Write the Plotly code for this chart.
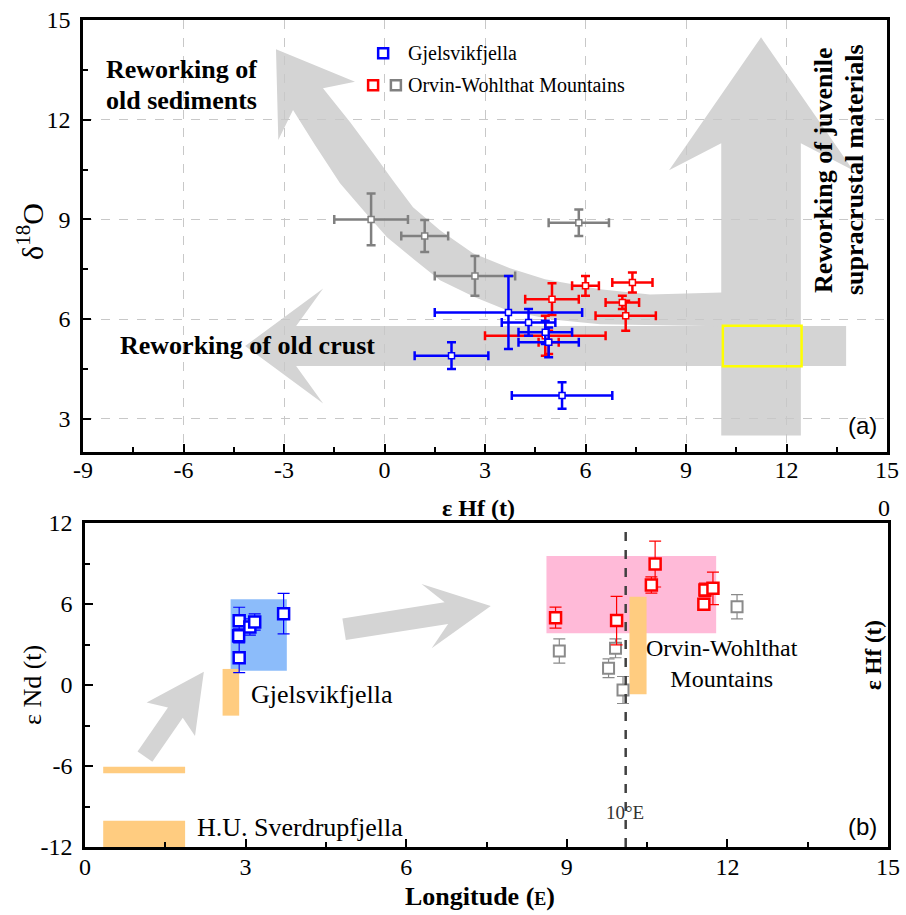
import math
import plotly.graph_objects as go

# ---------------- panel (a): εHf(t) vs δ18O ----------------
gjel_hf = [3.7, 4.3, 4.8, 4.9, 2.0, 5.3]
gjel_hf_err = [2.2, 0.8, 0.8, 0.9, 1.1, 1.5]
gjel_o = [6.2, 5.9, 5.6, 5.3, 4.9, 3.7]
gjel_o_err = [1.1, 0.4, 0.35, 0.45, 0.4, 0.4]

owm_red_hf = [5.0, 6.0, 7.4, 7.1, 7.2, 4.8, 4.9]
owm_red_hf_err = [0.8, 0.4, 0.6, 0.5, 0.9, 1.8, 0.3]
owm_red_o = [6.6, 7.0, 7.1, 6.5, 6.1, 5.5, 5.3]
owm_red_o_err = [0.48, 0.3, 0.3, 0.2, 0.45, 0.6, 0.35]

owm_gray_hf = [-0.4, 1.2, 2.7, 5.8]
owm_gray_hf_err = [1.1, 0.7, 1.2, 0.9]
owm_gray_o = [9.0, 8.5, 7.3, 8.9]
owm_gray_o_err = [0.78, 0.48, 0.6, 0.4]

hf_ticks = [-9, -6, -3, 0, 3, 6, 9, 12, 15]
o_ticks = [3, 6, 9, 12, 15]

# ---------------- panel (b): longitude vs εNd(t) ----------------
gjel_lon = [2.88, 2.87, 2.88, 3.08, 3.17, 3.71]
gjel_nd = [4.76, 3.65, 2.02, 4.3, 4.67, 5.28]
gjel_nd_err = [1.0, 0.5, 1.1, 0.6, 0.6, 1.5]

owm_red_lon = [8.79, 9.93, 10.65, 10.58, 11.58, 11.73, 11.56]
owm_red_nd = [4.99, 4.77, 8.96, 7.41, 7.04, 7.16, 5.98]
owm_red_nd_err = [0.78, 1.8, 1.7, 0.6, 0.5, 1.2, 0.4]

owm_gray_lon = [8.86, 9.91, 9.78, 10.05, 12.18]
owm_gray_nd = [2.52, 2.72, 1.24, -0.37, 5.8]
owm_gray_nd_err = [0.9, 0.7, 0.7, 1.0, 0.9]

lon_ticks = [0, 3, 6, 9, 12, 15]
nd_ticks = [-12, -6, 0, 6, 12]

# εHf ranges (longitude span, εHf min/max) drawn as orange bars
hf_bars = [
    (0.34, 1.87, -12.0, -10.05),
    (0.34, 1.87, -6.54, -6.05),
    (2.57, 2.88, -2.27, 1.19),
    (10.17, 10.49, -0.69, 6.54),
]
# εNd fields
gjel_field = (2.72, 3.77, 1.06, 6.35)
owm_field = (8.62, 11.79, 3.83, 9.56)
meridian = 10.1

W, H = 906, 915
# plot areas in pixels (left, right, top, bottom)
A = (83, 887, 20, 452)
B = (85, 888, 523, 847)
A_X, A_Y = (-9, 15), (2, 15)
B_X, B_Y = (0, 15), (-12, 12)

SERIF = "Liberation Serif"
BLUE, RED, GRAY = "#0000ff", "#ff0000", "#808080"
ARROW = "#d4d4d4"

fig = go.Figure()


def add_err(x, y, ex, ey, color, xa, ya, size, ew, cap, mline):
    fig.add_trace(go.Scatter(
        x=x, y=y, mode="markers", xaxis=xa, yaxis=ya, showlegend=False,
        marker=dict(symbol="square", size=size, color="white",
                    line=dict(color=color, width=mline)),
        error_x=(dict(type="data", array=ex, color=color, thickness=ew, width=cap)
                 if ex is not None else None),
        error_y=dict(type="data", array=ey, color=color, thickness=ew, width=cap),
    ))


# panel (a) data
add_err(owm_gray_hf, owm_gray_o, owm_gray_hf_err, owm_gray_o_err, GRAY, "x", "y", 6, 2.5, 4.5, 1.5)
add_err(owm_red_hf, owm_red_o, owm_red_hf_err, owm_red_o_err, RED, "x", "y", 6, 2.5, 4.5, 1.5)
add_err(gjel_hf, gjel_o, gjel_hf_err, gjel_o_err, BLUE, "x", "y", 6, 2.5, 4.5, 1.5)

# panel (b) data
add_err(owm_gray_lon, owm_gray_nd, None, owm_gray_nd_err, "#8a8a8a", "x2", "y2", 11, 1.2, 6, 2)
add_err(owm_red_lon, owm_red_nd, None, owm_red_nd_err, RED, "x2", "y2", 11, 1.2, 6, 2.5)
add_err(gjel_lon, gjel_nd, None, gjel_nd_err, BLUE, "x2", "y2", 11, 1.2, 6, 2.5)

# legend markers in panel (a)
fig.add_trace(go.Scatter(
    x=[-0.04, -0.34, 0.34], y=[14.0, 13.04, 13.04], mode="markers",
    xaxis="x", yaxis="y", showlegend=False, hoverinfo="skip",
    marker=dict(symbol="square", size=10, color="white",
                line=dict(color=[BLUE, RED, GRAY], width=2.5)),
))


def scales(area, xr, yr):
    sx = (area[1] - area[0]) / (xr[1] - xr[0])
    sy = (area[3] - area[2]) / (yr[1] - yr[0])
    return sx, sy


def arrow_path(tail, tip, sx, sy, shaft_hw, head_hw, head_len, sweep):
    """Block arrow with swept-back barbs; widths given in pixels."""
    tx, ty = tail[0] * sx, tail[1] * sy
    px, py = tip[0] * sx, tip[1] * sy
    dx, dy = px - tx, py - ty
    L = math.hypot(dx, dy)
    ux, uy = dx / L, dy / L
    nx, ny = -uy, ux
    base = L - head_len
    notch = base + sweep

    def pt(a, n):
        return ((tx + ux * a + nx * n) / sx, (ty + uy * a + ny * n) / sy)

    pts = [pt(0, shaft_hw), pt(notch, shaft_hw), pt(base, head_hw), (tip[0], tip[1]),
           pt(base, -head_hw), pt(notch, -shaft_hw), pt(0, -shaft_hw)]
    return "M " + " L ".join(f"{x:.4f},{y:.4f}" for x, y in pts) + " Z"


def poly_path(pts):
    return "M " + " L ".join(f"{x:.4f},{y:.4f}" for x, y in pts) + " Z"


shapes = []
sxa, sya = scales(A, A_X, A_Y)
sxb, syb = scales(B, B_X, B_Y)

# upward arrow: reworking of juvenile supracrustal materials
shapes.append(dict(type="path", xref="x", yref="y", layer="below", line=dict(width=0),
                   fillcolor=ARROW,
                   path=arrow_path((11.24, 2.5), (11.24, 14.48), sxa, sya, 39.8, 92, 133, 27)))
# leftward arrow: reworking of old crust
shapes.append(dict(type="path", xref="x", yref="y", layer="below", line=dict(width=0),
                   fillcolor=ARROW,
                   path=arrow_path((13.78, 5.19), (-4.16, 5.19), sxa, sya, 20, 57.5, 78, 27)))
# curved arrow: reworking of old sediments
curve = [
    (-2.731, 12.289), (-2.075, 11.235), (-1.328, 10.090), (-0.582, 9.217),
    (0.075, 8.464), (0.910, 7.771), (1.657, 7.169), (2.701, 6.657),
    (3.657, 6.265), (4.940, 5.994), (6.433, 5.843), (10.075, 5.783),
    (10.075, 6.80), (7.925, 6.74), (6.433, 6.90), (4.791, 7.199),
    (3.746, 7.530), (2.642, 7.982), (1.657, 8.675), (0.851, 9.367),
    (0.313, 10.090), (-0.343, 10.994), (-1.030, 11.928), (-1.836, 12.943),
    (-0.881, 13.142), (-3.239, 14.117), (-3.170, 11.386),
]
shapes.append(dict(type="path", xref="x", yref="y", layer="below", line=dict(width=0),
                   fillcolor=ARROW, path=poly_path(curve)))
# juvenile εHf / mantle δ18O box
shapes.append(dict(type="rect", xref="x", yref="y", x0=10.1, x1=12.45, y0=4.58, y1=5.8,
                   line=dict(color="#ffff00", width=2.5), fillcolor="rgba(0,0,0,0)"))

# panel (b) fields and bars
for (x0, x1, y0, y1), c in [(gjel_field, "#8cbcfa"), (owm_field, "#ffbad8")]:
    shapes.append(dict(type="rect", xref="x2", yref="y2", x0=x0, x1=x1, y0=y0, y1=y1,
                       layer="below", line=dict(width=0), fillcolor=c))
for x0, x1, y0, y1 in hf_bars:
    shapes.append(dict(type="rect", xref="x2", yref="y2", x0=x0, x1=x1, y0=y0, y1=y1,
                       layer="below", line=dict(width=0), fillcolor="#ffcc80"))
shapes.append(dict(type="path", xref="x2", yref="y2", layer="below", line=dict(width=0),
                   fillcolor=ARROW,
                   path=arrow_path((1.12, -5.31), (2.22, 0.99), sxb, syb, 9, 29.4, 58, 8)))
shapes.append(dict(type="path", xref="x2", yref="y2", layer="below", line=dict(width=0),
                   fillcolor=ARROW,
                   path=arrow_path((4.84, 4.13), (7.58, 5.85), sxb, syb, 11, 32.5, 65, 20)))
shapes.append(dict(type="line", xref="x2", yref="y2", x0=meridian, x1=meridian, y0=-12, y1=12,
                   line=dict(color="#404040", width=2.5, dash="dash")))


def px_paper(x, y):
    return x / W, 1 - y / H


ann = []


def text(x, y, s, size, bold=False, angle=0, xanchor="center", yanchor="middle",
         family=SERIF, color="black", align="center"):
    px, py = px_paper(x, y)
    if bold:
        s = f"<b>{s}</b>"
    ann.append(dict(x=px, y=py, xref="paper", yref="paper", text=s, showarrow=False,
                    textangle=angle, xanchor=xanchor, yanchor=yanchor, align=align,
                    font=dict(family=family, size=size, color=color)))


# panel (a) labels
text(104, 70, "Reworking of", 26, bold=True, xanchor="left")
text(104, 100, "old sediments", 26, bold=True, xanchor="left")
text(118, 345, "Reworking of old crust", 26, bold=True, xanchor="left")
text(824, 170, "Reworking of juvenile", 26, bold=True, angle=-90)
text(855, 170, "supracrustal materials", 26, bold=True, angle=-90)
text(406, 53, "Gjelsvikfjella", 20, xanchor="left")
text(406, 85, "Orvin-Wohlthat Mountains", 20, xanchor="left")
text(862, 425, "(a)", 24, family="Liberation Sans")
text(30, 232, "δ<sup>18</sup>O", 30, angle=-90)
text(478, 508, "ε Hf (t)", 24, bold=True)
text(884, 508, "0", 24)

# panel (b) labels
text(249, 694, "Gjelsvikfjella", 26, xanchor="left")
text(195, 827, "H.U. Sverdrupfjella", 26, xanchor="left")
text(722, 663, "Orvin-Wohlthat<br>Mountains", 24)
text(625, 812, "10°E", 19, color="#333333")
text(862, 826, "(b)", 24, family="Liberation Sans")
text(32, 685, "ε Nd (t)", 26, angle=-90)
text(873, 655, "ε Hf (t)", 23, bold=True, angle=-90)
text(480, 896, "<b>Longitude (</b><span style='font-size:18px'><b>E</b></span><b>)</b>", 26)

axis_common = dict(
    showline=True, linecolor="black", linewidth=2.5, mirror=True, zeroline=False,
    ticks="inside", ticklen=8, tickwidth=2, tickcolor="black",
    tickfont=dict(family=SERIF, size=24, color="black"),
    automargin=False, fixedrange=True,
)


def labels(vals):
    return [str(v) for v in vals]


minor_x = dict(ticks="inside", ticklen=5, tickwidth=2, dtick=1.5, tick0=0,
               tickcolor="black", showgrid=False)

fig.update_layout(
    width=W, height=H, margin=dict(l=0, r=0, t=0, b=0),
    paper_bgcolor="white", plot_bgcolor="white", showlegend=False,
    shapes=shapes, annotations=ann,
    xaxis=dict(axis_common, domain=[A[0] / W, A[1] / W], anchor="y", range=list(A_X),
               tickvals=hf_ticks, ticktext=labels(hf_ticks),
               showgrid=True, gridcolor="#c8c8c8", griddash="dash",
               gridwidth=1, ticklabelstandoff=-6, minor=minor_x),
    yaxis=dict(axis_common, domain=[1 - A[3] / H, 1 - A[2] / H], anchor="x", range=list(A_Y),
               tickvals=o_ticks, ticktext=labels(o_ticks),
               showgrid=True, gridcolor="#c8c8c8", griddash="dash",
               gridwidth=1, ticklabelstandoff=5, minor=minor_x),
    xaxis2=dict(axis_common, domain=[B[0] / W, B[1] / W], anchor="y2", range=list(B_X),
                tickvals=lon_ticks, ticktext=labels(lon_ticks), showgrid=False,
                ticklabelstandoff=-4, minor=minor_x),
    yaxis2=dict(axis_common, domain=[1 - B[3] / H, 1 - B[2] / H], anchor="x2", range=list(B_Y),
                tickvals=nd_ticks, ticktext=labels(nd_ticks), showgrid=False,
                ticklabelstandoff=5,
                minor=dict(ticks="inside", ticklen=5, tickwidth=2, dtick=3, tick0=0,
                           tickcolor="black")),
)

fig.write_html("out.html")
